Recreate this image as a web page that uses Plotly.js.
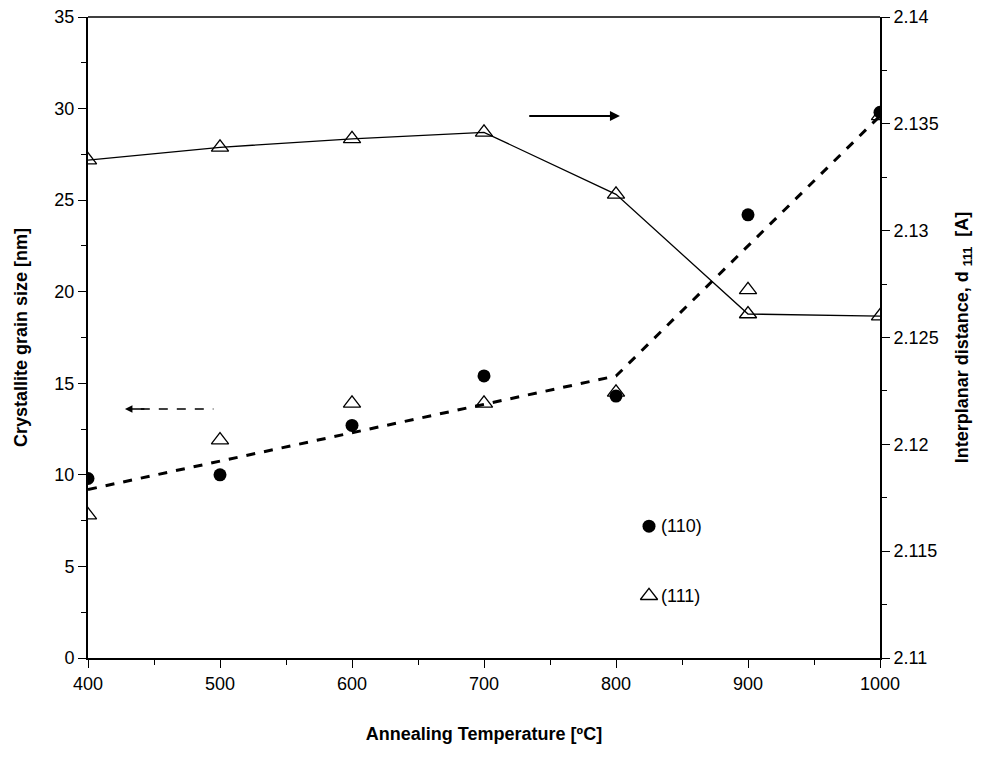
<!DOCTYPE html><html><head><script src="https://cdn.plot.ly/plotly-3.0.1.min.js"></script></head><body style="margin:0"><div id="c" style="width:1003px;height:763px"></div><script>
const temps=[400,500,600,700,800,900,1000];
const size110=[9.8,10.0,12.7,15.4,14.3,24.2,29.8];
const size111=[7.8,11.9,13.9,13.9,14.5,20.1,29.6];
const fitX=[400,800,1000];
const fitSize=[9.2,15.4,29.6];
const d111=[2.1333,2.1339,2.1343,2.1346,2.1317,2.1261,2.1260];
const F={family:"Liberation Sans, Arial",size:18,color:"#000"};
const TF={family:"Liberation Sans, Arial",size:18,color:"#000"};
const tri={symbol:"triangle-up-open",size:15,color:"#000",line:{width:1.3}};
const data=[
{x:fitX,y:fitSize,mode:"lines",line:{color:"#000",width:3,dash:"dash"},hoverinfo:"skip"},
{x:temps,y:size110,mode:"markers",marker:{symbol:"circle",size:13,color:"#000"}},
{x:temps,y:size111,mode:"markers",marker:tri},
{x:temps,y:d111,yaxis:"y2",mode:"lines+markers",line:{color:"#000",width:1.3},marker:tri},
{x:[825],y:[7.2],mode:"markers",marker:{symbol:"circle",size:13,color:"#000"}},
{x:[825],y:[3.4],mode:"markers",marker:tri}
];
const ax={showgrid:false,zeroline:false,linecolor:"#000",linewidth:2,ticks:"outside",ticklen:8,tickcolor:"#000",tickfont:F};
const layout={showlegend:false,plot_bgcolor:"#fff",paper_bgcolor:"#fff",margin:{l:88,r:123,t:17,b:105},
xaxis:Object.assign({},ax,{range:[400,1000],dtick:100,minor:{dtick:50,ticks:"outside",ticklen:5,tickcolor:"#000"},title:{text:"<b>Annealing Temperature [ºC]</b>",font:TF,standoff:35}}),
yaxis:Object.assign({},ax,{range:[0,35],dtick:5,minor:{dtick:2.5,ticks:"outside",ticklen:5,tickcolor:"#000"},title:{text:"<b>Crystallite grain size [nm]</b>",font:TF,standoff:22}}),
yaxis2:Object.assign({},ax,{overlaying:"y",side:"right",range:[2.11,2.14],dtick:0.005,minor:{dtick:0.0025,ticks:"outside",ticklen:5,tickcolor:"#000"},title:{text:"<b>Interplanar distance, d <sub>111</sub>  [A]</b>",font:TF,standoff:18}}),
shapes:[{type:"line",xref:"paper",yref:"paper",x0:0,x1:1,y0:1,y1:1,line:{color:"#000",width:1.3}},
{type:"line",x0:440,x1:495,y0:13.6,y1:13.6,line:{color:"#000",width:1.5,dash:"dash"}}],
annotations:[
{x:825,y:7.2,text:"(110)",showarrow:false,xanchor:"left",xshift:10,font:F},
{x:825,y:3.4,text:"(111)",showarrow:false,xanchor:"left",xshift:10,font:F},
{x:803,y:29.6,ax:732,ay:29.6,axref:"x",ayref:"y",text:" ",showarrow:true,arrowhead:2,arrowwidth:2,arrowcolor:"#000"},
{x:428,y:13.6,ax:445,ay:13.6,axref:"x",ayref:"y",text:" ",showarrow:true,arrowhead:2,arrowwidth:1.5,arrowcolor:"#000"}
]};
Plotly.newPlot("c",data,layout,{displayModeBar:false});
</script></body></html>
